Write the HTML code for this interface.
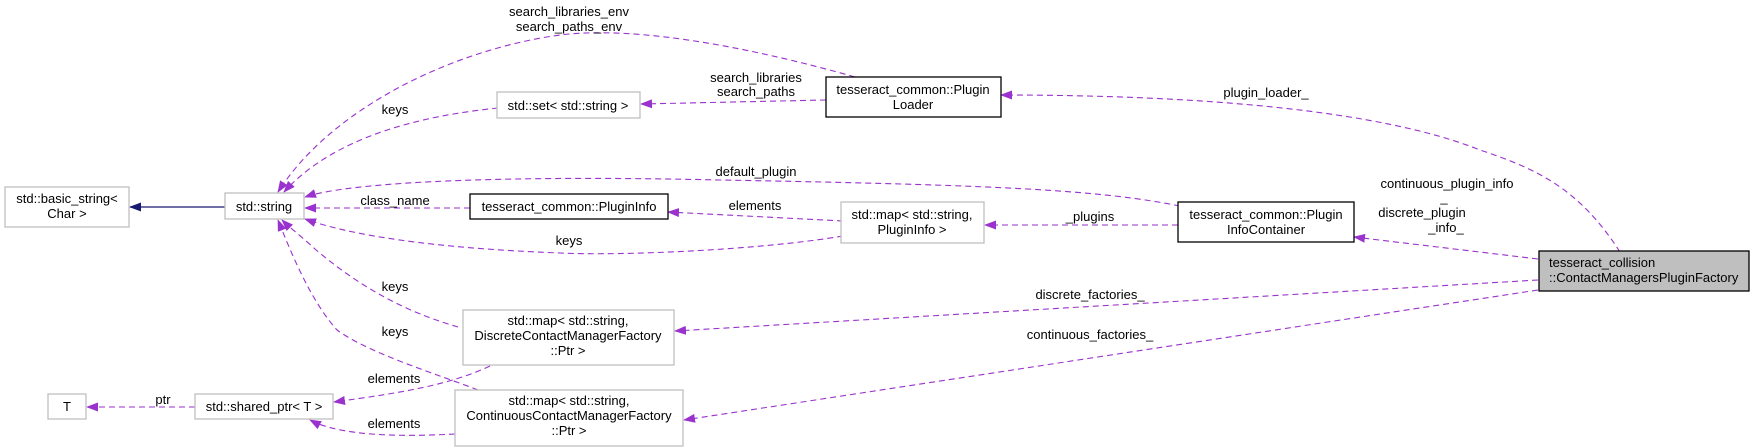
<!DOCTYPE html>
<html><head><meta charset="utf-8"><style>
html,body{margin:0;padding:0;background:#fff;}
svg{display:block;}
text{font-family:"Liberation Sans",Helvetica,sans-serif;font-size:13px;fill:#000;}
</style></head><body>
<svg width="1752" height="448" viewBox="0 0 1752 448" xmlns="http://www.w3.org/2000/svg">
<defs>
<marker id="a" markerWidth="12" markerHeight="9" refX="11" refY="4.5" orient="auto" markerUnits="userSpaceOnUse"><path d="M0,0 L12,4.5 L0,9 z" fill="#9a32cd"/></marker>
<marker id="b" markerWidth="12" markerHeight="9" refX="11" refY="4.5" orient="auto" markerUnits="userSpaceOnUse"><path d="M0,0 L12,4.5 L0,9 z" fill="#191970"/></marker>
</defs>
<g fill="none" stroke="#9a32cd" stroke-width="1.1" stroke-dasharray="6,4">
<path d="M498,108 C440,114 340,130 284,192" marker-end="url(#a)"/>
<path d="M855,77 C760,50 640,25 560,35 C450,50 330,110 278,192" marker-end="url(#a)"/>
<path d="M826,100 L641,104" marker-end="url(#a)"/>
<path d="M1180,206 C1100,190 1000,185 720,180 C500,175 350,182 305,197" marker-end="url(#a)"/>
<path d="M470,208 L305,208" marker-end="url(#a)"/>
<path d="M843,236 C760,250 620,256 560,253 C430,248 350,235 305,219" marker-end="url(#a)"/>
<path d="M843,221 L668,212" marker-end="url(#a)"/>
<path d="M1178,225 L985,225" marker-end="url(#a)"/>
<path d="M1620,252 C1580,190 1540,170 1480,150 C1380,110 1200,95 1001,95" marker-end="url(#a)"/>
<path d="M1538,259 L1354,237" marker-end="url(#a)"/>
<path d="M1538,280 L675,331" marker-end="url(#a)"/>
<path d="M1538,290 L684,420" marker-end="url(#a)"/>
<path d="M458,327 C420,316 370,296 315,249 C300,235 290,228 282,220" marker-end="url(#a)"/>
<path d="M478,390 C440,375 370,354 337,330 C310,300 290,250 278,220" marker-end="url(#a)"/>
<path d="M490,366 C450,385 400,393 334,402" marker-end="url(#a)"/>
<path d="M455,434 C400,437 340,436 310,420" marker-end="url(#a)"/>
<path d="M195,407 L87,407" marker-end="url(#a)"/>
</g>
<path d="M225,207 L130,207" stroke="#191970" stroke-width="1.2" fill="none" marker-end="url(#b)"/>
<g stroke-width="1.3">
<rect x="5" y="187" width="124" height="40" fill="#fff" stroke="#bfbfbf"/>
<rect x="225" y="193" width="79" height="26" fill="#fff" stroke="#bfbfbf"/>
<rect x="48" y="394" width="38" height="25" fill="#fff" stroke="#bfbfbf"/>
<rect x="195" y="394" width="138" height="25" fill="#fff" stroke="#bfbfbf"/>
<rect x="497" y="92" width="143" height="26" fill="#fff" stroke="#bfbfbf"/>
<rect x="826" y="77" width="175" height="40" fill="#fff" stroke="#000"/>
<rect x="470" y="194" width="198" height="25" fill="#fff" stroke="#000"/>
<rect x="841" y="202" width="143" height="41" fill="#fff" stroke="#bfbfbf"/>
<rect x="463" y="310" width="211" height="55" fill="#fff" stroke="#bfbfbf"/>
<rect x="455" y="390" width="228" height="56" fill="#fff" stroke="#bfbfbf"/>
<rect x="1178" y="202" width="176" height="40" fill="#fff" stroke="#000"/>
<rect x="1539" y="251" width="210" height="40" fill="#bfbfbf" stroke="#000"/>
</g>
<g text-anchor="middle">
<text x="67" y="203">std::basic_string&lt;</text><text x="67" y="218">Char &gt;</text>
<text x="264" y="211">std::string</text>
<text x="67" y="411">T</text>
<text x="264" y="411">std::shared_ptr&lt; T &gt;</text>
<text x="568" y="110">std::set&lt; std::string &gt;</text>
<text x="913" y="94">tesseract_common::Plugin</text><text x="913" y="109">Loader</text>
<text x="569" y="211">tesseract_common::PluginInfo</text>
<text x="912" y="219">std::map&lt; std::string,</text><text x="912" y="234">PluginInfo &gt;</text>
<text x="568" y="325">std::map&lt; std::string,</text><text x="568" y="340">DiscreteContactManagerFactory</text><text x="568" y="355">::Ptr &gt;</text>
<text x="569" y="405">std::map&lt; std::string,</text><text x="569" y="420">ContinuousContactManagerFactory</text><text x="569" y="435">::Ptr &gt;</text>
<text x="1266" y="219">tesseract_common::Plugin</text><text x="1266" y="234">InfoContainer</text>
</g>
<text x="1549" y="267">tesseract_collision</text><text x="1549" y="282">::ContactManagersPluginFactory</text>
<g text-anchor="middle">
<text x="569" y="16">search_libraries_env</text><text x="569" y="31">search_paths_env</text>
<text x="395" y="114">keys</text>
<text x="756" y="82">search_libraries</text><text x="756" y="96">search_paths</text>
<text x="1266" y="97">plugin_loader_</text>
<text x="756" y="176">default_plugin</text>
<text x="395" y="205">class_name</text>
<text x="755" y="210">elements</text>
<text x="569" y="245">keys</text>
<text x="1090" y="221">_plugins</text>
<text x="1447" y="188">continuous_plugin_info</text><text x="1444" y="202">_</text>
<text x="1422" y="217">discrete_plugin</text><text x="1446" y="232">_info_</text>
<text x="1090" y="299">discrete_factories_</text>
<text x="1090" y="339">continuous_factories_</text>
<text x="395" y="291">keys</text>
<text x="395" y="336">keys</text>
<text x="394" y="383">elements</text>
<text x="394" y="428">elements</text>
<text x="163" y="404">ptr</text>
</g>
</svg>
</body></html>
